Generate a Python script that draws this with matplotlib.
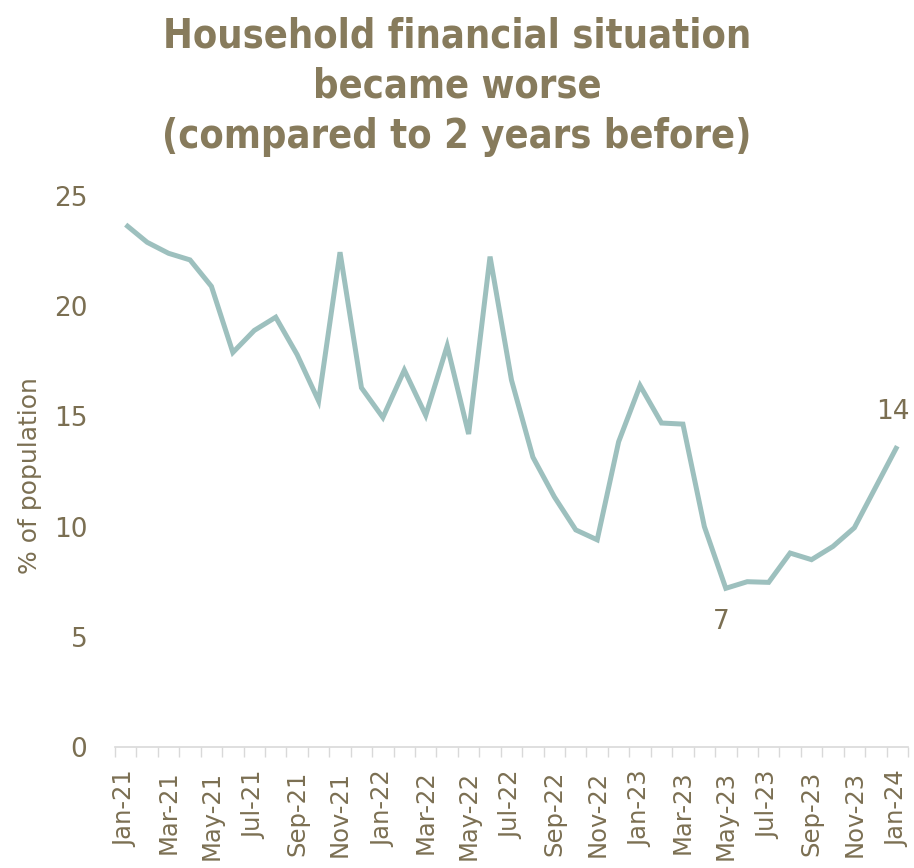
import matplotlib
matplotlib.use("Agg")
import matplotlib.pyplot as plt
import numpy as np

months = ["Jan-21","Feb-21","Mar-21","Apr-21","May-21","Jun-21","Jul-21","Aug-21","Sep-21","Oct-21","Nov-21","Dec-21",
          "Jan-22","Feb-22","Mar-22","Apr-22","May-22","Jun-22","Jul-22","Aug-22","Sep-22","Oct-22","Nov-22","Dec-22",
          "Jan-23","Feb-23","Mar-23","Apr-23","May-23","Jun-23","Jul-23","Aug-23","Sep-23","Oct-23","Nov-23","Dec-23",
          "Jan-24"]
values = [23.7, 22.9, 22.4, 22.1, 20.9, 17.9, 18.9, 19.5, 17.8, 15.7, 22.45, 16.3,
          14.95, 17.1, 15.05, 18.2, 14.2, 22.25, 16.65, 13.15, 11.35, 9.85, 9.4, 13.85,
          16.4, 14.7, 14.65, 10.0, 7.2, 7.5, 7.47, 8.8, 8.5, 9.1, 9.95, 11.8, 13.65]
yticks = [0, 5, 10, 15, 20, 25]
title_lines = ["Household financial situation", "became worse", "(compared to 2 years before)"]

text_col = "#7B6F52"
title_col = "#877B5C"
line_col = "#9DC0BE"
font = "DejaVu Sans"

fig = plt.figure(figsize=(9.14, 8.68), dpi=100)
ax = fig.add_axes([0.1258, 0.1394, 0.8676, 0.6348])
x = np.arange(len(months))
ax.plot(x, values, color=line_col, lw=3.6, solid_joinstyle="miter", solid_capstyle="butt")
ax.set_xlim(-0.5, len(months) - 0.5)
ax.set_ylim(0, 25)

ax.set_yticks(yticks)
ax.set_yticklabels([str(t) for t in yticks], fontsize=19, color=text_col, family=font)
ax.tick_params(axis="y", length=0, pad=20)

ax.set_xticks(x[::2])
ax.set_xticklabels(months[::2], rotation=90, fontsize=17.5, color=text_col, family=font)
ax.tick_params(axis="x", length=0, pad=17)
ax.set_xticks(np.arange(-0.5, len(months), 1), minor=True)
ax.tick_params(axis="x", which="minor", length=7, color="#D9D9D9", width=1)

for s in ["top", "right", "left"]:
    ax.spines[s].set_visible(False)
ax.spines["bottom"].set_color("#D9D9D9")
ax.spines["bottom"].set_linewidth(1.2)

ax.set_ylabel("% of population", fontsize=18, color=text_col, family=font)
ax.yaxis.set_label_coords(-0.092, 0.492)

ax.annotate(f"{values[28]:.0f}", (x[28], values[28]), xytext=(-3, -15), textcoords="offset points",
            ha="center", va="top", fontsize=19, color=text_col, family=font)
ax.annotate(f"{values[36]:.0f}", (x[36], values[36]), xytext=(-3, 15), textcoords="offset points",
            ha="center", va="bottom", fontsize=19, color=text_col, family=font)

for line, yb in zip(title_lines, [47, 98, 148]):
    fig.text(0.5, 1 - yb / 868, line, ha="center", va="baseline", fontsize=28.5, fontweight="bold",
             color=title_col, family=font, fontstretch="condensed")

fig.savefig("out.png", dpi=100)
